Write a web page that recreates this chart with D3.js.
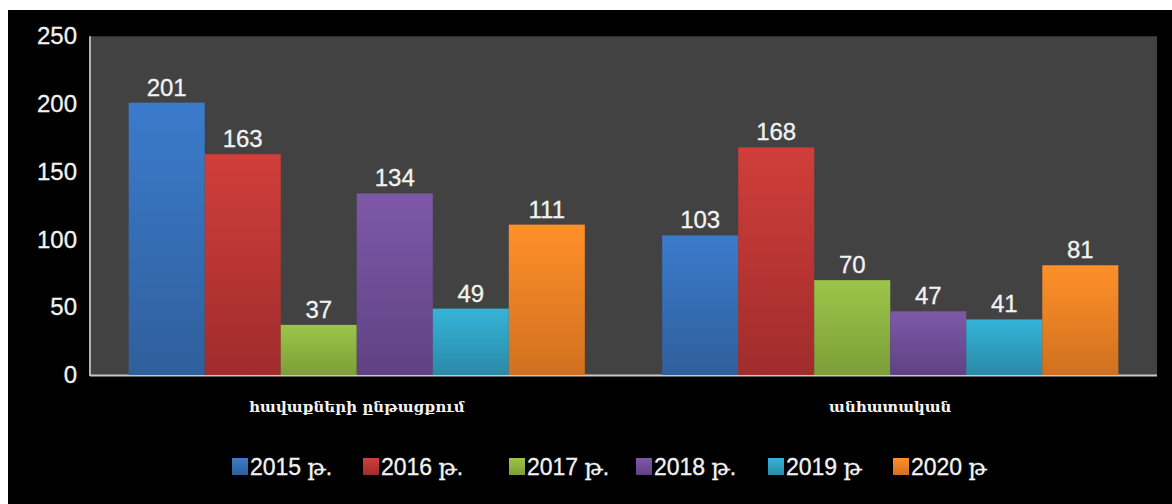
<!DOCTYPE html>
<html><head><meta charset="utf-8">
<script src="https://cdn.jsdelivr.net/npm/d3@7"></script>
<style>html,body{margin:0;padding:0;background:#fff;}svg{display:block;}</style>
</head><body>
<svg id="chart" width="1172" height="504"></svg>
<script>
const categories = ["հավաքների ընթացքում", "անհատական"];
const seriesNames = ["2015 թ.", "2016 թ.", "2017 թ.", "2018 թ.", "2019 թ", "2020 թ"];
const values2015 = [201, 103];
const values2016 = [163, 168];
const values2017 = [37, 70];
const values2018 = [134, 47];
const values2019 = [49, 41];
const values2020 = [111, 81];
const yTicks = [0, 50, 100, 150, 200, 250];
const colorsTop = ["#3b7bcc", "#d03e3a", "#9cc54a", "#7e58a8", "#35b4d8", "#ff9029"];
const colorsBottom = ["#2f5f9c", "#a02c2c", "#7d9e38", "#5f4283", "#2a8aa8", "#d0701f"];

const allValues = [values2015, values2016, values2017, values2018, values2019, values2020];

const svg = d3.select("#chart");
svg.append("rect").attr("x", 8).attr("y", 10).attr("width", 1164).attr("height", 494).attr("fill", "#000");

const pLeft = 90, pRight = 1157, pTop = 36.3, pBottom = 375;
const y = d3.scaleLinear().domain([0, 250]).range([pBottom, pTop]);
const x0 = d3.scaleBand().domain(categories).range([pLeft, pRight]).paddingInner(0.145).paddingOuter(0.0725);
const x1 = d3.scaleBand().domain(seriesNames).range([0, x0.bandwidth()]);

const defs = svg.append("defs");
seriesNames.forEach((s, i) => {
  const g = defs.append("linearGradient").attr("id", "g" + i).attr("x1", 0).attr("y1", 0).attr("x2", 0).attr("y2", 1);
  g.append("stop").attr("offset", "0%").attr("stop-color", colorsTop[i]);
  g.append("stop").attr("offset", "100%").attr("stop-color", colorsBottom[i]);
});

svg.append("rect").attr("x", pLeft).attr("y", pTop).attr("width", pRight - pLeft).attr("height", pBottom - pTop).attr("fill", "#424242");

// y axis labels
const yAxis = d3.axisLeft(y).tickValues(yTicks).tickSize(0).tickPadding(13);
const ya = svg.append("g").attr("transform", `translate(${pLeft},0)`).call(yAxis);
ya.select(".domain").remove();
ya.selectAll("text").attr("fill", "#f2f2f2").style("font-family", "'Liberation Sans', Arial, sans-serif").style("font-size", "24px")
  .attr("stroke", "#f2f2f2").attr("stroke-width", 0.3);

// axis lines
svg.append("line").attr("x1", pLeft).attr("x2", pLeft).attr("y1", pTop).attr("y2", pBottom + 1).attr("stroke", "#b0b0b0").attr("stroke-width", 2);
svg.append("line").attr("x1", pLeft).attr("x2", pRight).attr("y1", pBottom + 0.5).attr("y2", pBottom + 0.5).attr("stroke", "#c8c8c8").attr("stroke-width", 2);

// bars
const groups = svg.append("g").selectAll("g").data(categories).join("g")
  .attr("transform", d => `translate(${x0(d)},0)`);
groups.each(function(cat, ci) {
  const g = d3.select(this);
  seriesNames.forEach((s, si) => {
    const v = allValues[si][ci];
    g.append("rect").attr("x", x1(s)).attr("y", y(v)).attr("width", x1.bandwidth()).attr("height", y(0) - y(v))
      .attr("fill", `url(#g${si})`);
    g.append("text").attr("x", x1(s) + x1.bandwidth() / 2).attr("y", y(v) - 7)
      .attr("text-anchor", "middle").attr("fill", "#f2f2f2").attr("stroke", "#f2f2f2").attr("stroke-width", 0.3)
      .style("font-family", "'Liberation Sans', Arial, sans-serif").style("font-size", "24px")
      .text(v);
  });
});

// category labels
const xAxis = d3.axisBottom(x0).tickSize(0).tickPadding(26);
const xa = svg.append("g").attr("transform", `translate(0,${pBottom})`).call(xAxis);
xa.select(".domain").remove();
xa.selectAll("text").attr("fill", "#f2f2f2").style("font-family", "'DejaVu Serif', serif").style("font-size", "15px").style("font-weight", "bold");

// legend
const legendX = [232, 363, 509, 636, 768, 893];
const leg = svg.append("g");
seriesNames.forEach((s, i) => {
  const gg = leg.append("g").attr("transform", `translate(${legendX[i]},458)`);
  gg.append("rect").attr("width", 16).attr("height", 17).attr("fill", `url(#g${i})`);
  gg.append("text").attr("x", 18).attr("y", 17).attr("fill", "#f2f2f2").attr("stroke", "#f2f2f2").attr("stroke-width", 0.3)
    .style("font-family", "'Liberation Sans', 'DejaVu Serif', sans-serif").style("font-size", "23px")
    .text(s);
});
</script>
</body></html>
